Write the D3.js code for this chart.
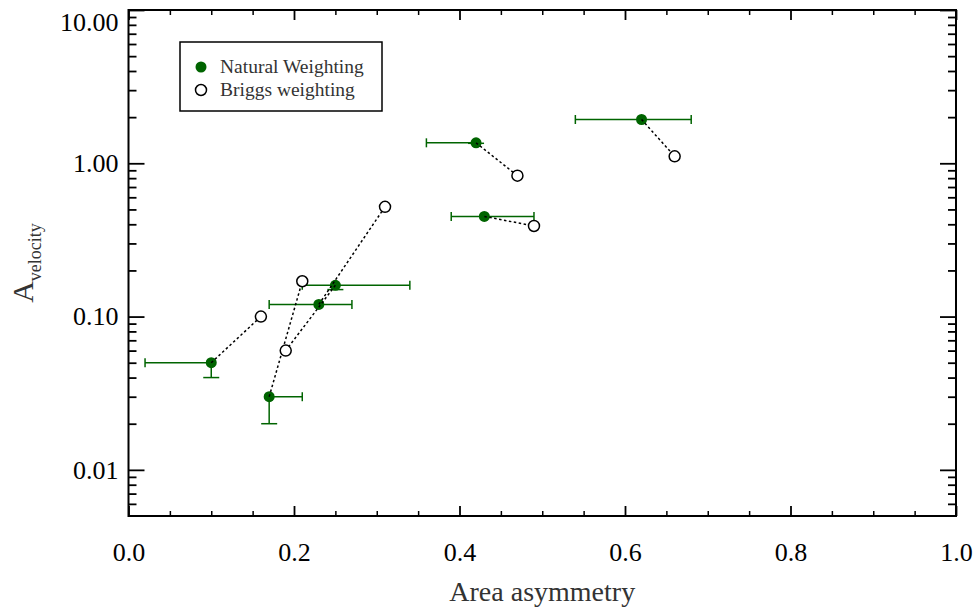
<!DOCTYPE html>
<html>
<head>
<meta charset="utf-8">
<script src="https://cdn.jsdelivr.net/npm/d3@7"></script>
<style>
  html, body { margin: 0; padding: 0; background: #fff; }
  svg { display: block; }
  svg text { font-family: "Liberation Serif", "Times New Roman", serif !important; }
</style>
</head>
<body>
<svg id="chart" width="977" height="614"></svg>
<script>
// Natural weighting: points with asymmetric error bars
const natX    = [0.10, 0.17, 0.23, 0.25, 0.42, 0.43, 0.62];
const natY    = [0.05, 0.03, 0.12, 0.16, 1.36, 0.45, 1.93];
const natXLo  = [0.02, 0.17, 0.17, 0.21, 0.36, 0.39, 0.54];
const natXHi  = [0.10, 0.21, 0.27, 0.34, 0.42, 0.49, 0.68];
const natYLo  = [0.04, 0.02, null, 0.15, 1.35, null, null];

// Briggs weighting: same sources, paired by index with the natural points
const brigX   = [0.16, 0.21, 0.31, 0.19, 0.47, 0.49, 0.66];
const brigY   = [0.10, 0.17, 0.52, 0.06, 0.83, 0.39, 1.11];

const xMajor  = [0.0, 0.2, 0.4, 0.6, 0.8, 1.0];
const xMinor  = [0.05, 0.1, 0.15, 0.25, 0.3, 0.35, 0.45, 0.5, 0.55,
                 0.65, 0.7, 0.75, 0.85, 0.9, 0.95];
const yMajor  = [0.01, 0.1, 1, 10];
const yMinor  = [0.006, 0.007, 0.008, 0.009,
                 0.02, 0.03, 0.04, 0.05, 0.06, 0.07, 0.08, 0.09,
                 0.2, 0.3, 0.4, 0.5, 0.6, 0.7, 0.8, 0.9,
                 2, 3, 4, 5, 6, 7, 8, 9];

const legendLabels = ["Natural Weighting", "Briggs weighting"];

const green = "#006400";
const svg = d3.select("#chart");

const pLeft = 128.5, pRight = 956, pTop = 10, pBottom = 516;
const x = d3.scaleLinear().domain([0, 1]).range([pLeft, pRight]);
const y = d3.scaleLog().domain([0.005, 10]).range([pBottom, pTop]);

// ---- axes ----
const fmtY = d3.format(".2f");
const fmtX = d3.format(".1f");

function styleAxis(g, w) {
  g.select(".domain").remove();
  g.selectAll(".tick line").attr("stroke", "#000").attr("stroke-width", w);
}

// bottom
svg.append("g").attr("transform", `translate(0,${pBottom})`)
  .call(d3.axisBottom(x).tickValues(xMajor).tickFormat(fmtX)
        .tickSizeInner(-10).tickSizeOuter(0).tickPadding(27))
  .call(g => styleAxis(g, 1.8))
  .call(g => g.selectAll("text").attr("font-size", 26).attr("fill", "#000"));
svg.append("g").attr("transform", `translate(0,${pBottom})`)
  .call(d3.axisBottom(x).tickValues(xMinor).tickFormat("").tickSizeInner(-5).tickSizeOuter(0))
  .call(g => styleAxis(g, 1.5));

// top
svg.append("g").attr("transform", `translate(0,${pTop})`)
  .call(d3.axisTop(x).tickValues(xMajor).tickFormat("").tickSizeInner(-10).tickSizeOuter(0))
  .call(g => styleAxis(g, 1.8));
svg.append("g").attr("transform", `translate(0,${pTop})`)
  .call(d3.axisTop(x).tickValues(xMinor).tickFormat("").tickSizeInner(-5).tickSizeOuter(0))
  .call(g => styleAxis(g, 1.5));

// left
svg.append("g").attr("transform", `translate(${pLeft},0)`)
  .call(d3.axisLeft(y).tickValues(yMajor).tickFormat(fmtY)
        .tickSizeInner(-16).tickSizeOuter(0).tickPadding(10))
  .call(g => styleAxis(g, 1.8))
  .call(g => g.selectAll("text").attr("font-size", 26).attr("fill", "#000")
                 .attr("dy", d => d === 10 ? "0.8em" : "0.32em"));
svg.append("g").attr("transform", `translate(${pLeft},0)`)
  .call(d3.axisLeft(y).tickValues(yMinor).tickFormat("").tickSizeInner(-8).tickSizeOuter(0))
  .call(g => styleAxis(g, 1.8));

// right
svg.append("g").attr("transform", `translate(${pRight},0)`)
  .call(d3.axisRight(y).tickValues(yMajor).tickFormat("").tickSizeInner(-16).tickSizeOuter(0))
  .call(g => styleAxis(g, 1.8));
svg.append("g").attr("transform", `translate(${pRight},0)`)
  .call(d3.axisRight(y).tickValues(yMinor).tickFormat("").tickSizeInner(-8).tickSizeOuter(0))
  .call(g => styleAxis(g, 1.8));

// frame
svg.append("rect")
  .attr("x", pLeft).attr("y", pTop)
  .attr("width", pRight - pLeft).attr("height", pBottom - pTop)
  .attr("fill", "none").attr("stroke", "#000").attr("stroke-width", 2);

// ---- axis titles ----
svg.append("text")
  .attr("x", (pLeft + pRight) / 2).attr("y", 601)
  .attr("text-anchor", "middle").attr("font-size", 28).attr("fill", "#333")
  .text("Area asymmetry");

const yt = svg.append("text")
  .attr("transform", `translate(33,${(pTop + pBottom) / 2}) rotate(-90)`)
  .attr("text-anchor", "middle").attr("fill", "#333");
yt.append("tspan").attr("font-size", 30).text("A");
yt.append("tspan").attr("font-size", 18).attr("dy", 8).text("velocity");

// ---- data ----
const nat = natX.map((v, i) => ({ x: v, y: natY[i], xlo: natXLo[i], xhi: natXHi[i], ylo: natYLo[i] }));
const brig = brigX.map((v, i) => ({ x: v, y: brigY[i] }));

const eb = svg.append("g").attr("stroke", green).attr("stroke-width", 1.5).attr("fill", "none");
nat.forEach(d => {
  const cy = y(d.y);
  if (d.xlo < d.x) {
    eb.append("line").attr("x1", x(d.xlo)).attr("x2", x(d.x)).attr("y1", cy).attr("y2", cy);
    eb.append("line").attr("x1", x(d.xlo)).attr("x2", x(d.xlo)).attr("y1", cy - 4.5).attr("y2", cy + 4.5);
  }
  if (d.xhi > d.x) {
    eb.append("line").attr("x1", x(d.x)).attr("x2", x(d.xhi)).attr("y1", cy).attr("y2", cy);
    eb.append("line").attr("x1", x(d.xhi)).attr("x2", x(d.xhi)).attr("y1", cy - 4.5).attr("y2", cy + 4.5);
  }
  if (d.ylo !== null) {
    const cx = x(d.x);
    eb.append("line").attr("x1", cx).attr("x2", cx).attr("y1", cy).attr("y2", y(d.ylo));
    eb.append("line").attr("x1", cx - 8).attr("x2", cx + 8).attr("y1", y(d.ylo)).attr("y2", y(d.ylo));
  }
});

svg.append("g").selectAll("circle").data(nat).join("circle")
  .attr("cx", d => x(d.x)).attr("cy", d => y(d.y)).attr("r", 5.5)
  .attr("fill", green);

svg.append("g").selectAll("line").data(nat).join("line")
  .attr("x1", d => x(d.x)).attr("y1", d => y(d.y))
  .attr("x2", (d, i) => x(brig[i].x)).attr("y2", (d, i) => y(brig[i].y))
  .attr("stroke", "#000").attr("stroke-width", 1.5).attr("stroke-dasharray", "2.5,2.5");

svg.append("g").selectAll("circle").data(brig).join("circle")
  .attr("cx", d => x(d.x)).attr("cy", d => y(d.y)).attr("r", 5.5)
  .attr("fill", "#fff").attr("stroke", "#000").attr("stroke-width", 1.5);

// ---- legend ----
const lg = svg.append("g");
lg.append("rect").attr("x", 180).attr("y", 42).attr("width", 202).attr("height", 69)
  .attr("fill", "#fff").attr("stroke", "#000").attr("stroke-width", 1.5);
lg.append("circle").attr("cx", 201).attr("cy", 67).attr("r", 5.5).attr("fill", green);
lg.append("circle").attr("cx", 201).attr("cy", 90).attr("r", 5.5)
  .attr("fill", "#fff").attr("stroke", "#000").attr("stroke-width", 1.5);
lg.selectAll("text").data(legendLabels).join("text")
  .attr("x", 220).attr("y", (d, i) => 67 + i * 23).attr("dy", "0.33em")
  .attr("font-size", 19.5).attr("fill", "#333")
  .text(d => d);
</script>
</body>
</html>
